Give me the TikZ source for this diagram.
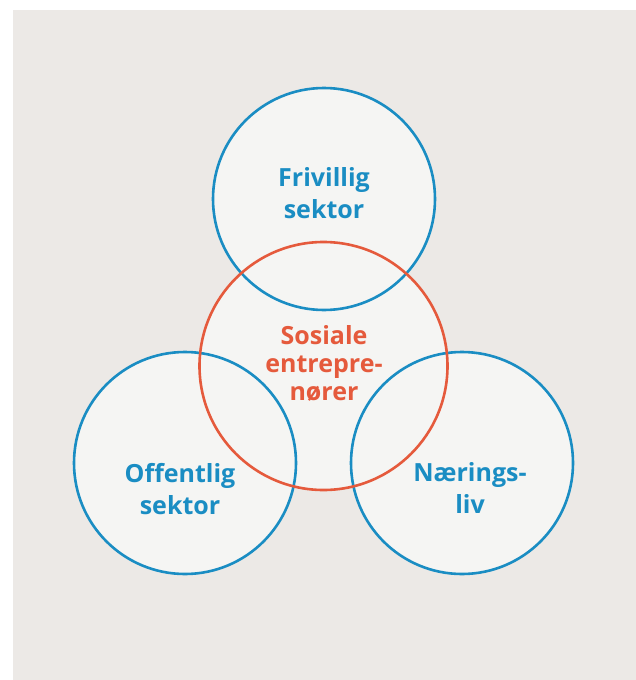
\documentclass[tikz,border=0pt]{standalone}
\usepackage{fontspec}
\setmainfont{Open Sans}
\definecolor{bgray}{HTML}{ECE9E6}
\definecolor{cfill}{HTML}{F5F5F3}
\definecolor{cblue}{HTML}{1A8DC3}
\definecolor{corange}{HTML}{E55A3C}
\begin{document}
\begin{tikzpicture}[x=1pt,y=-1pt,
  ring/.style={circle,inner sep=0pt,minimum size=#1,fill=cfill},
  lbl/.style={align=center,inner sep=0pt},
  bluelbl/.style={lbl,text=cblue,font=\fontsize{25}{32}\selectfont\bfseries},
  orlbl/.style={lbl,text=corange,font=\fontsize{25}{28}\selectfont\bfseries}]
\useasboundingbox (0,0) rectangle (636,680);
\fill[white] (0,0) rectangle (636,680);
\fill[bgray] (13,10) rectangle (636,680);
% fills
\node[ring=223pt] (top) at (324,199) {};
\node[ring=223pt] (left) at (185,463) {};
\node[ring=223pt] (right) at (462,463) {};
\node[ring=248pt] (mid) at (323.5,366) {};
% outlines
\draw[cblue,line width=2.6pt] (top.center) circle[radius=111pt];
\draw[cblue,line width=2.6pt] (left.center) circle[radius=111pt];
\draw[cblue,line width=2.6pt] (right.center) circle[radius=111pt];
\draw[corange,line width=2.6pt] (mid.center) circle[radius=124pt];
% labels
\node[bluelbl] (tfr) at (324,193) {Frivillig\\sektor};
\node[orlbl] (tso) at (324,363) {Sosiale\\entrepre-\\nører};
\node[bluelbl] (tof) at (180,489) {Offentlig\\sektor};
\node[bluelbl] (tna) at (470,488) {Nærings-\\liv};
\end{tikzpicture}
\end{document}
